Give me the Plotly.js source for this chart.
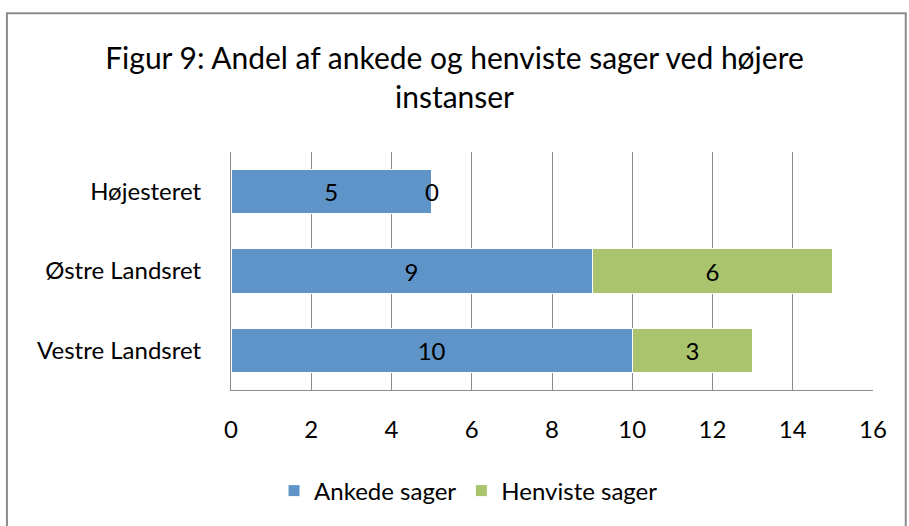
<!DOCTYPE html>
<html>
<head>
<meta charset="utf-8">
<script src="https://cdn.plot.ly/plotly-3.0.1.min.js"></script>
<style>html,body{margin:0;padding:0;background:#fff;}#chart{width:909px;height:526px;}</style>
</head>
<body>
<div id="chart"></div>
<script>
const categories = ["Vestre Landsret", "Østre Landsret", "Højesteret"];
const ankede = [10, 9, 5];
const henviste = [3, 6, 0];
const seriesNames = ["Ankede sager", "Henviste sager"];
const xTicks = [0, 2, 4, 6, 8, 10, 12, 14, 16];

const FONT = "Lato, 'Open Sans', sans-serif";
const LABEL_SIZE = 24;
const traces = [
  {type: "bar", orientation: "h", y: categories, x: ankede, name: seriesNames[0],
   marker: {color: "#5f94c8", line: {color: "#ffffff", width: 1}},
   text: ankede.map(String), textposition: "inside", insidetextanchor: "middle",
   constraintext: "none",
   textfont: {family: FONT, size: LABEL_SIZE, color: "#000"}, width: 0.56, hoverinfo: "x+y"},
  {type: "bar", orientation: "h", y: categories, x: henviste, name: seriesNames[1],
   marker: {color: "#a9c46c", line: {color: "#ffffff", width: 1}},
   text: henviste.map(v => v === 0 ? "" : String(v)), textposition: "inside", insidetextanchor: "middle",
   constraintext: "none",
   textfont: {family: FONT, size: LABEL_SIZE, color: "#000"}, width: 0.56, hoverinfo: "x+y"}
];
// zero-value label drawn as annotation (bar of width 0 cannot hold inside text)
const annotations = [];
categories.forEach((c, i) => {
  if (henviste[i] === 0) {
    annotations.push({x: ankede[i], y: c, xref: "x", yref: "y", text: "0", showarrow: false,
      font: {family: FONT, size: LABEL_SIZE, color: "#000"}, xanchor: "center"});
  }
});

const layout = {
  width: 909, height: 526,
  margin: {l: 231, r: 36, t: 152, b: 134},
  paper_bgcolor: "#fff", plot_bgcolor: "#fff",
  barmode: "stack",
  uniformtext: {mode: false},
  title: {text: "Figur 9: Andel af ankede og henviste sager ved højere<br>instanser",
    font: {family: FONT, size: 30, color: "#000"}, x: 0.5, xanchor: "center", y: 0.869, yanchor: "top"},
  xaxis: {range: [0, 16], tickvals: xTicks, ticktext: xTicks.map(String),
    showgrid: true, gridcolor: "#8c8c8c", gridwidth: 1, zeroline: false,
    showline: true, linecolor: "#8c8c8c", linewidth: 1, ticks: "", ticklen: 0,
    ticklabelstandoff: 18,
    tickfont: {family: FONT, size: 24, color: "#000"}, fixedrange: true},
  yaxis: {range: [-0.5, 2.5], showgrid: false, zeroline: false, showline: true,
    linecolor: "#8c8c8c", linewidth: 1, ticks: "", ticklabelstandoff: 24,
    tickfont: {family: FONT, size: 24, color: "#000"}, fixedrange: true},
  legend: {orientation: "h", x: 0.37, xanchor: "center", y: -0.33, yanchor: "top",
    font: {family: FONT, size: 24, color: "#000"}, traceorder: "normal"},
  annotations: annotations,
  shapes: [{type: "rect", xref: "paper", yref: "paper", x0: -0.349, x1: 1.051, y0: -0.62, y1: 1.583,
    line: {color: "#8c8c8c", width: 2}}]
};
Plotly.newPlot("chart", traces, layout, {displayModeBar: false, staticPlot: true});
</script>
</body>
</html>
